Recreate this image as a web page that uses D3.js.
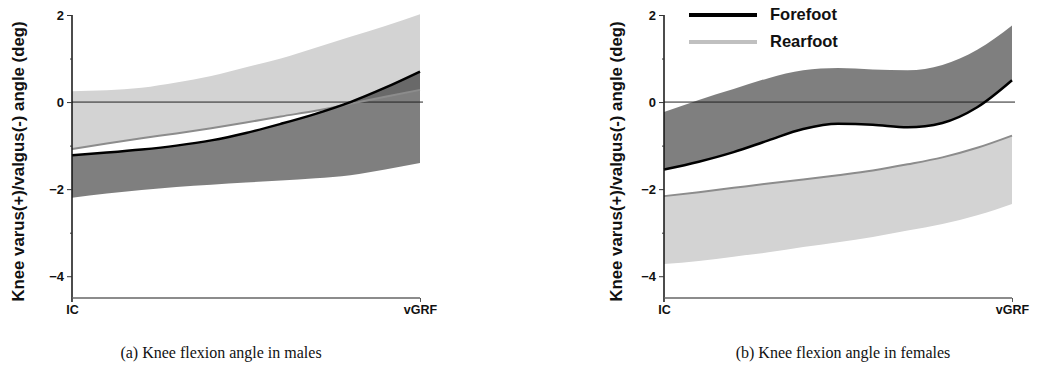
<!DOCTYPE html>
<html>
<head>
<meta charset="utf-8">
<script src="https://cdn.jsdelivr.net/npm/d3@7"></script>
<style>
  html, body { margin: 0; padding: 0; background: #fff; }
  svg { display: block; }
</style>
</head>
<body>
<svg id="chart" width="1037" height="371"></svg>
<script>
// ---- data ----
const stancePct = [0, 10, 20, 30, 40, 50, 60, 70, 80, 90, 100];
const xTickLabels = ["IC", "vGRF"];
const yMajorTicks = [2, 0, -2, -4];
const yMinorTicks = [1, -1, -3];
const seriesNames = ["Forefoot", "Rearfoot"];
const captions = ["(a) Knee flexion angle in males", "(b) Knee flexion angle in females"];
const yTitle = "Knee varus(+)/valgus(-) angle (deg)";

// males
const maleForeMean  = [-1.22, -1.16, -1.09, -1.00, -0.88, -0.71, -0.50, -0.27, 0.00, 0.33, 0.70];
const maleForeLower = [-2.20, -2.10, -2.02, -1.95, -1.90, -1.85, -1.80, -1.75, -1.68, -1.55, -1.40];
const maleRearMean  = [-1.08, -0.95, -0.83, -0.72, -0.60, -0.47, -0.33, -0.20, -0.04, 0.12, 0.28];
const maleRearUpper = [0.25, 0.27, 0.33, 0.45, 0.60, 0.80, 1.00, 1.25, 1.50, 1.75, 2.02];

// females
const femForeMean  = [-1.55, -1.37, -1.15, -0.88, -0.62, -0.50, -0.52, -0.58, -0.48, -0.12, 0.50];
const femForeUpper = [-0.23, 0.05, 0.30, 0.55, 0.73, 0.78, 0.75, 0.73, 0.85, 1.20, 1.76];
const femRearMean  = [-2.16, -2.07, -1.97, -1.87, -1.78, -1.68, -1.57, -1.43, -1.27, -1.05, -0.77];
const femRearLower = [-3.72, -3.65, -3.55, -3.45, -3.33, -3.22, -3.10, -2.95, -2.80, -2.60, -2.34];

const panels = [
  { left: 72, fore: maleForeMean, foreBand: maleForeLower, rear: maleRearMean, rearBand: maleRearUpper, titleX: 24, caption: captions[0], capX: 221, legend: false },
  { left: 664, fore: femForeMean, foreBand: femForeUpper, rear: femRearMean, rearBand: femRearLower, titleX: 622, caption: captions[1], capX: 843, legend: true }
];

const svg = d3.select("#chart");
const plotW = 348, plotTop = 15, plotBottom = 298;

panels.forEach(p => {
  const x = d3.scaleLinear().domain([0, 100]).range([p.left, p.left + plotW]);
  const y = d3.scaleLinear().domain([-4.5, 2]).range([plotBottom, plotTop]);
  const g = svg.append("g");
  const curve = d3.curveMonotoneX;

  const rearArea = d3.area().curve(curve)
    .x((d, i) => x(stancePct[i])).y0((d, i) => y(p.rear[i])).y1(d => y(d));
  const foreArea = d3.area().curve(curve)
    .x((d, i) => x(stancePct[i])).y0((d, i) => y(p.fore[i])).y1(d => y(d));
  const line = d3.line().curve(curve).x((d, i) => x(stancePct[i])).y(d => y(d));

  g.append("path").attr("d", rearArea(p.rearBand)).attr("fill", "#d3d3d3");
  g.append("path").attr("d", foreArea(p.foreBand)).attr("fill", "#000").attr("fill-opacity", 0.5);

  // zero line
  g.append("line").attr("x1", x(0)).attr("x2", x(100) + 3).attr("y1", y(0)).attr("y2", y(0))
    .attr("stroke", "#222").attr("stroke-width", 1);

  g.append("path").attr("d", line(p.rear)).attr("fill", "none").attr("stroke", "#8c8c8c").attr("stroke-width", 2);
  g.append("path").attr("d", line(p.fore)).attr("fill", "none").attr("stroke", "#000").attr("stroke-width", 2.5);

  // y axis
  const yAxis = d3.axisLeft(y).tickValues(yMajorTicks).tickSize(5).tickPadding(3).tickFormat(d3.format("d"));
  const ya = g.append("g").attr("transform", `translate(${p.left},0)`).call(yAxis);
  ya.select(".domain").attr("d", `M0,${plotTop}V${plotBottom + 4}`).attr("stroke", "#111").attr("stroke-width", 1.5);
  ya.selectAll(".tick line").attr("stroke", "#333");
  ya.selectAll(".tick text").attr("font-family", "Liberation Sans, Arial, sans-serif")
    .attr("font-weight", "bold").attr("font-size", 13).attr("fill", "#111");
  const yMinor = d3.axisLeft(y).tickValues(yMinorTicks).tickSize(2).tickFormat("");
  const ym = g.append("g").attr("transform", `translate(${p.left},0)`).call(yMinor);
  ym.select(".domain").remove();
  ym.selectAll(".tick line").attr("stroke", "#333");

  // x axis
  const xAxis = d3.axisBottom(x).tickValues([0, 100]).tickSize(4).tickPadding(3)
    .tickFormat((d, i) => xTickLabels[i]);
  const xa = g.append("g").attr("transform", `translate(0,${plotBottom})`).call(xAxis);
  xa.select(".domain").attr("d", `M${x(0)},0H${x(100)}`).attr("stroke", "#666").attr("stroke-width", 1.5);
  xa.selectAll(".tick line").attr("stroke", "#555");
  xa.selectAll(".tick text").attr("font-family", "Liberation Sans, Arial, sans-serif")
    .attr("font-weight", "bold").attr("font-size", 12.5).attr("fill", "#111");

  // y title
  g.append("text").attr("transform", `translate(${p.titleX},${(plotTop + 308) / 2}) rotate(-90)`)
    .attr("text-anchor", "middle").attr("font-family", "Liberation Sans, Arial, sans-serif")
    .attr("font-weight", "bold").attr("font-size", 16.8).attr("fill", "#111").text(yTitle);

  // caption
  g.append("text").attr("x", p.capX).attr("y", 358).attr("text-anchor", "middle")
    .attr("font-family", "Liberation Serif, Times New Roman, serif").attr("font-size", 16)
    .attr("fill", "#111").text(p.caption);

  if (p.legend) {
    const lg = g.append("g");
    const items = [{ name: seriesNames[0], color: "#000", ly: 15, ty: 20 }, { name: seriesNames[1], color: "#c0c0c0", ly: 42, ty: 47 }];
    items.forEach(it => {
      lg.append("line").attr("x1", 689).attr("x2", 757).attr("y1", it.ly).attr("y2", it.ly)
        .attr("stroke", it.color).attr("stroke-width", 4);
      lg.append("text").attr("x", 770).attr("y", it.ty).attr("font-family", "Liberation Sans, Arial, sans-serif")
        .attr("font-weight", "bold").attr("font-size", 16.5).attr("fill", "#111").text(it.name);
    });
  }
});
</script>
</body>
</html>
